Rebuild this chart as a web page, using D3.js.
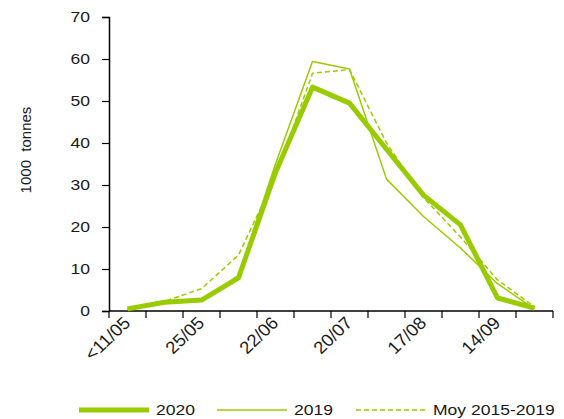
<!DOCTYPE html>
<html>
<head>
<meta charset="utf-8">
<script src="https://cdn.jsdelivr.net/npm/d3@7"></script>
<style>
  body { margin: 0; background: #fff; }
  text { font-family: "Liberation Sans", Arial, sans-serif; fill: #1a1a1a; }
</style>
</head>
<body>
<svg id="chart" width="564" height="419"></svg>
<script>
const weeks = ['<11/05', '11/05', '25/05', '08/06', '22/06', '06/07', '20/07', '03/08', '17/08', '31/08', '14/09', '28/09'];
const shownLabels = ['<11/05', '25/05', '22/06', '20/07', '17/08', '14/09'];
const yTicks = [0, 10, 20, 30, 40, 50, 60, 70];

const v2020 = [0.5, 2.1, 2.6, 7.9, 33, 53.3, 49.5, 38.5, 27.6, 20.5, 3.1, 0.7];
const v2019 = [0.4, 2.0, 2.5, 8.5, 35, 59.4, 57.6, 31.4, 22.5, 15, 6.5, 0.5];
const vMoy = [0.4, 2.3, 5.3, 13.3, 32, 56.6, 57.5, 40, 27, 17.6, 7.4, 1];

const green = '#99cc00';
const series = [
    { name: '2020', values: v2020, width: 5, dash: null },
    { name: '2019', values: v2019, width: 1.5, dash: null },
    { name: 'Moy 2015-2019', values: vMoy, width: 1.5, dash: '5,3' },
];

const svg = d3.select('#chart');
const plotLeft = 109, plotRight = 553, plotTop = 17, plotBottom = 311;
const fontSize = '15px';
const stretch = 1.17; // the original text is a bit wider than plain Arial

const x = d3.scaleBand().domain(weeks).range([plotLeft, plotRight]);
const y = d3.scaleLinear().domain([0, 70]).range([plotBottom, plotTop]);

// y axis
const yAxis = svg.append('g')
    .attr('transform', `translate(${plotLeft},0)`)
    .call(d3.axisLeft(y).tickValues(yTicks).tickSize(7).tickPadding(12));
yAxis.select('.domain').attr('stroke', '#000').attr('stroke-width', 1.5);
yAxis.selectAll('.tick line').attr('stroke', '#000').attr('stroke-width', 1.2);
yAxis.selectAll('text')
    .attr('x', 0)
    .attr('transform', `translate(-19,0) scale(${stretch},1)`)
    .style('font-size', fontSize)
    .style('font-family', '"Liberation Sans", Arial, sans-serif')
    .attr('fill', '#1a1a1a');

// x axis: ticks at category boundaries
const xg = svg.append('g').attr('transform', `translate(0,${plotBottom})`);
xg.append('line')
    .attr('x1', plotLeft).attr('x2', plotRight)
    .attr('stroke', '#000').attr('stroke-width', 1.5);
const bounds = weeks.map((w) => x(w)).concat([x(weeks[weeks.length - 1]) + x.bandwidth()]);
xg.selectAll('.xt')
    .data(bounds)
    .enter()
    .append('line')
    .attr('x1', (d) => d).attr('x2', (d) => d)
    .attr('y1', 0).attr('y2', 7)
    .attr('stroke', '#000').attr('stroke-width', 1.2);
xg.selectAll('.xl')
    .data(shownLabels)
    .enter()
    .append('text')
    .attr('text-anchor', 'end')
    .style('font-size', '17.5px')
    .attr('transform', (d) => `translate(${x(d) + x.bandwidth() / 2 + 4},${13}) scale(1.05,1) rotate(-45)`)
    .text((d) => d);

// y title
svg.append('text')
    .attr('transform', 'translate(31,150) rotate(-90)')
    .attr('text-anchor', 'middle')
    .style('font-size', fontSize)
    .style('white-space', 'pre')
    .text('1000  tonnes');

// lines
const line = d3.line()
    .x((d, i) => x(weeks[i]) + x.bandwidth() / 2)
    .y((d) => y(d));

series.slice().reverse().forEach((s) => {
    svg.append('path')
        .datum(s.values)
        .attr('fill', 'none')
        .attr('stroke', green)
        .attr('stroke-width', s.width)
        .attr('stroke-dasharray', s.dash)
        .attr('stroke-linejoin', 'round')
        .attr('d', line);
});

// legend
const legendX = [79, 217, 356];
const legend = svg.selectAll('.legend')
    .data(series)
    .enter()
    .append('g')
    .attr('transform', (d, i) => `translate(${legendX[i]},410)`);
legend.append('line')
    .attr('x1', 0).attr('x2', 70)
    .attr('stroke', green)
    .attr('stroke-width', (d) => d.width)
    .attr('stroke-dasharray', (d) => d.dash);
legend.append('text')
    .attr('transform', `translate(77,5) scale(${stretch},1)`)
    .style('font-size', fontSize)
    .text((d) => d.name);
</script>
</body>
</html>
